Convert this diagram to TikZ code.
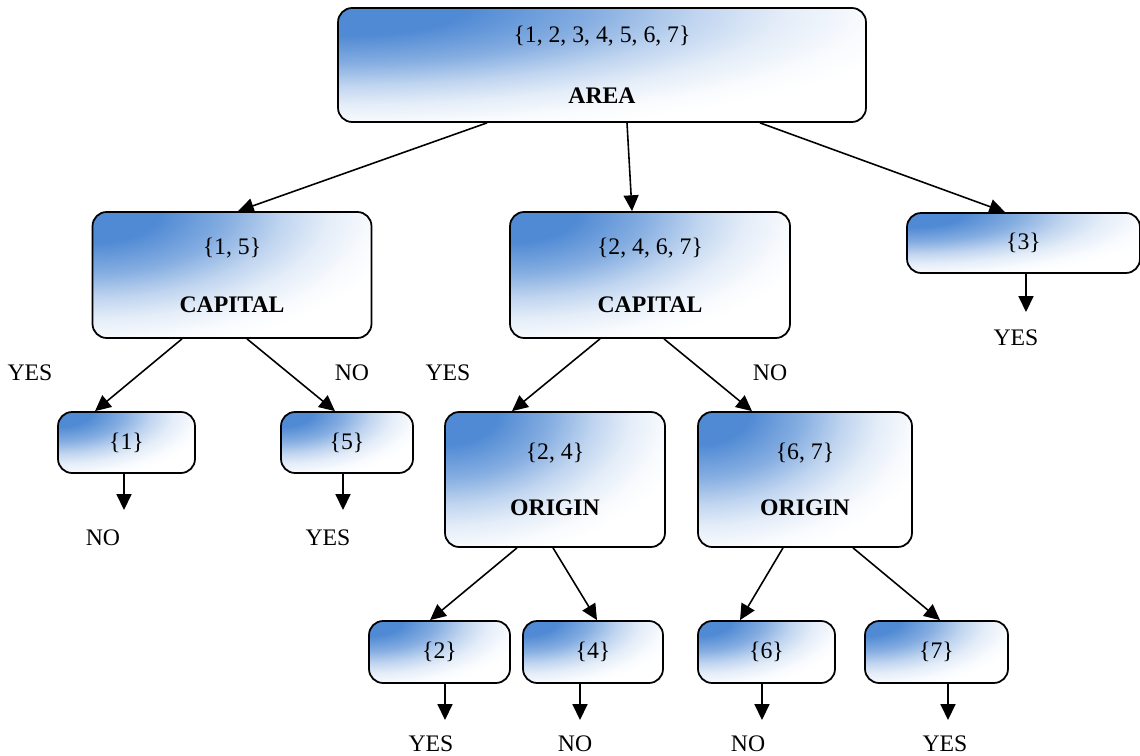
\documentclass[tikz,border=0pt]{standalone}
\usepackage{fontspec}
\setmainfont{Liberation Serif}
\usetikzlibrary{arrows.meta,calc}
\definecolor{setblue}{RGB}{80,138,212}
\pgfdeclareradialshading{setglow}{\pgfpointorigin}{color(0bp)=(setblue); color(6bp)=(setblue);
  color(12bp)=(setblue!70); color(17bp)=(setblue!36); color(21bp)=(setblue!16);
  color(25bp)=(setblue!4); color(28bp)=(white); color(50bp)=(white)}
\tikzset{
  setbox/.style={draw, line width=1pt, rounded corners=8pt, fill=white,
    path picture={\shade[shading=setglow]
      ($(path picture bounding box.north west)!-1!(path picture bounding box.south east)$)
      rectangle (path picture bounding box.south east);},
    align=center, inner sep=0pt, font=\fontsize{13.5}{16}\selectfont},
  link/.style={-{Triangle[length=9pt,width=8.5pt]}, line width=0.9pt},
  answer/.style={font=\fontsize{13.5}{16}\selectfont, inner sep=1pt}
}

\begin{document}
\begin{tikzpicture}[x=0.02cm, y=-0.02cm]
\useasboundingbox (0,0) rectangle (1140,756);
\node[setbox, minimum width=10.56cm, minimum height=2.28cm] (area) at (602,65)
  {\{1, 2, 3, 4, 5, 6, 7\}\\[18.5pt] \textbf{AREA}};
\node[setbox, minimum width=5.58cm, minimum height=2.52cm] (cap15) at (232,275)
  {\{1, 5\}\\[17pt] \textbf{CAPITAL}};
\node[setbox, minimum width=5.6cm, minimum height=2.52cm] (cap2467) at (650,275)
  {\{2, 4, 6, 7\}\\[17pt] \textbf{CAPITAL}};
\node[setbox, minimum width=4.66cm, minimum height=1.2cm] (set3) at (1023.5,243) {\{3\}};
\node[setbox, minimum width=2.74cm, minimum height=1.22cm] (set1) at (126.5,442.5) {\{1\}};
\node[setbox, minimum width=2.64cm, minimum height=1.22cm] (set5) at (347,442.5) {\{5\}};
\node[setbox, minimum width=4.4cm, minimum height=2.7cm] (orig24) at (555,479.5)
  {\{2, 4\}\\[16pt] \textbf{ORIGIN}};
\node[setbox, minimum width=4.28cm, minimum height=2.7cm] (orig67) at (805,479.5)
  {\{6, 7\}\\[16pt] \textbf{ORIGIN}};
\node[setbox, minimum width=2.82cm, minimum height=1.24cm] (set2) at (439.5,652) {\{2\}};
\node[setbox, minimum width=2.8cm, minimum height=1.24cm] (set4) at (593,652) {\{4\}};
\node[setbox, minimum width=2.74cm, minimum height=1.24cm] (set6) at (766.5,652) {\{6\}};
\node[setbox, minimum width=2.86cm, minimum height=1.24cm] (set7) at (936.5,652) {\{7\}};

\draw[link] ([xshift=-2.3cm]area.south) -- ([xshift=0.12cm]cap15.north);
\draw[link] ([xshift=0.5cm]area.south) -- ([xshift=-0.36cm]cap2467.north);
\draw[link] ([xshift=3.16cm]area.south) -- ([xshift=-0.37cm]set3.north);
\draw[link] ([xshift=-1cm]cap15.south) -- ([xshift=-0.63cm]set1.north);
\draw[link] ([xshift=0.3cm]cap15.south) -- ([xshift=-0.24cm]set5.north);
\draw[link] ([xshift=-1cm]cap2467.south) -- ([xshift=-0.86cm]orig24.north);
\draw[link] ([xshift=0.28cm]cap2467.south) -- ([xshift=-1.06cm]orig67.north);
\draw[link] ([xshift=-0.76cm]orig24.south) -- ([xshift=-0.19cm]set2.north);
\draw[link] ([xshift=-0.04cm]orig24.south) -- ([xshift=0.08cm]set4.north);
\draw[link] ([xshift=-0.44cm]orig67.south) -- ([xshift=-0.53cm]set6.north);
\draw[link] ([xshift=0.96cm]orig67.south) -- ([xshift=0.07cm]set7.north);

\coordinate (end1) at (124,510);
\coordinate (end5) at (343,510);
\coordinate (end3) at (1026,312);
\coordinate (end2) at (445,720);
\coordinate (end4) at (580,720);
\coordinate (end6) at (762,720);
\coordinate (end7) at (948,720);
\draw[link] (set1.south -| end1) -- (end1);
\draw[link] (set5.south -| end5) -- (end5);
\draw[link] (set3.south -| end3) -- (end3);
\draw[link] (set2.south -| end2) -- (end2);
\draw[link] (set4.south -| end4) -- (end4);
\draw[link] (set6.south -| end6) -- (end6);
\draw[link] (set7.south -| end7) -- (end7);

\node[answer] (ans1) at (103,538) {NO};
\node[answer] (ans5) at (328,538) {YES};
\node[answer] (ans3) at (1016,338) {YES};
\node[answer] (ans2) at (431,744) {YES};
\node[answer] (ans4) at (575,744) {NO};
\node[answer] (ans6) at (748,744) {NO};
\node[answer] (ans7) at (945,744) {YES};

\node[answer] (yesl) at (30,373) {YES};
\node[answer] (nol) at (352,373) {NO};
\node[answer] (yesm) at (448,373) {YES};
\node[answer] (nom) at (770,373) {NO};
\end{tikzpicture}
\end{document}
